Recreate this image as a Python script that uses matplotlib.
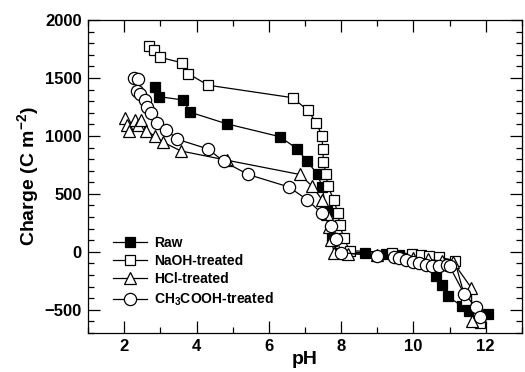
import matplotlib
matplotlib.use("Agg")
import matplotlib.pyplot as plt
from matplotlib.ticker import MultipleLocator

plt.rcParams['font.family'] = ['Liberation Sans', 'DejaVu Sans']
plt.rcParams['mathtext.fontset'] = 'custom'
plt.rcParams['mathtext.rm'] = 'Liberation Sans'
plt.rcParams['mathtext.bf'] = 'Liberation Sans:bold'
plt.rcParams['mathtext.default'] = 'bf'

# pH / charge
raw_ph = [2.85, 2.97, 3.63, 3.82, 4.83, 6.30, 6.78, 7.05, 7.35, 7.47, 7.60, 7.75, 7.90,
          8.67, 9.24, 9.60, 10.10, 10.43, 10.62, 10.80, 10.95, 11.35, 11.55, 12.05]
raw_q = [1420, 1339, 1310, 1205, 1105, 994, 890, 784, 668, 563, 350, 120, -10,
         -6, -20, -30, -46, -63, -205, -290, -385, -470, -510, -540]

naoh_ph = [2.67, 2.83, 2.99, 3.59, 3.77, 4.32, 6.66, 7.08, 7.31, 7.47, 7.49, 7.51, 7.58,
           7.63, 7.80, 7.90, 7.97, 8.07, 8.24, 9.42, 9.97, 10.20, 10.43, 10.70, 11.14,
           11.45, 11.80, 11.85]
naoh_q = [1776, 1741, 1678, 1632, 1537, 1438, 1330, 1220, 1115, 1000, 885, 779, 668,
          565, 448, 339, 228, 118, 10, -6, -17, -26, -35, -46, -75,
          -420, -545, -610]

hcl_ph = [2.01, 2.07, 2.12, 2.30, 2.39, 2.47, 2.60, 2.84, 3.08, 3.57, 4.85, 6.85, 7.20,
          7.47, 7.60, 7.66, 7.72, 7.81, 8.20, 9.00, 9.60, 10.00, 10.40, 10.80, 11.10,
          11.60, 11.62]
hcl_q = [1153, 1095, 1046, 1138, 1095, 1138, 1046, 1000, 945, 870, 790, 668, 566,
         450, 330, 218, 103, -6, -15, -25, -35, -50, -65, -80, -90,
         -310, -600]

ac_ph = [2.26, 2.37, 2.35, 2.44, 2.58, 2.62, 2.74, 2.90, 3.16, 3.47, 4.32, 4.75, 5.42,
         6.55, 7.06, 7.46, 7.71, 7.87, 8.00, 9.00, 9.47, 9.60, 9.80, 10.00, 10.15,
         10.34, 10.52, 10.70, 10.93, 11.00, 11.40, 11.72, 11.85]
ac_q = [1497, 1489, 1391, 1362, 1310, 1247, 1196, 1109, 1052, 971, 887, 780, 668,
        560, 450, 333, 222, 113, -6, -34, -44, -55, -69, -84, -98,
        -112, -121, -121, -115, -125, -360, -475, -560]

fig = plt.figure(figsize=(5.25, 3.72), dpi=100)
ax = fig.add_axes([0.168, 0.105, 0.826, 0.841])

line_kw = dict(color='black', lw=0.9, markeredgecolor='black', markeredgewidth=0.9)
ax.plot(raw_ph, raw_q, marker='s', ms=7.8, markerfacecolor='black', label='Raw', **line_kw)
ax.plot(naoh_ph, naoh_q, marker='s', ms=7.8, markerfacecolor='white',
        label='NaOH-treated', **line_kw)
ax.plot(hcl_ph, hcl_q, marker='^', ms=8.8, markerfacecolor='white',
        label='HCl-treated', **line_kw)
ax.plot(ac_ph, ac_q, marker='o', ms=8.8, markerfacecolor='white',
        label='CH$_3$COOH-treated', **line_kw)

ax.set_xlim(1, 13)
ax.set_ylim(-700, 2000)
ax.xaxis.set_major_locator(MultipleLocator(2))
ax.xaxis.set_minor_locator(MultipleLocator(1))
ax.yaxis.set_major_locator(MultipleLocator(500))
ax.yaxis.set_minor_locator(MultipleLocator(100))
ax.tick_params(which='both', direction='in', top=True, right=True, width=0.9)
ax.tick_params(which='major', length=8.5, labelsize=12, pad=4.5)
ax.tick_params(which='minor', length=4.5)
for lab in ax.get_xticklabels() + ax.get_yticklabels():
    lab.set_fontweight('bold')
for sp in ax.spines.values():
    sp.set_linewidth(0.9)

ax.set_xlabel('pH', fontsize=14, fontweight='bold', labelpad=-2)
ax.set_ylabel(r'Charge (C m$^{-2}$)', fontsize=14, fontweight='bold', labelpad=3)

ax.legend(loc='lower left', bbox_to_anchor=(0.058, 0.08), frameon=False,
          prop={'size': 10, 'weight': 'bold'}, borderpad=0, borderaxespad=0,
          handlelength=2.4, handletextpad=0.5, labelspacing=0.3)

fig.savefig('out.png', dpi=100)
